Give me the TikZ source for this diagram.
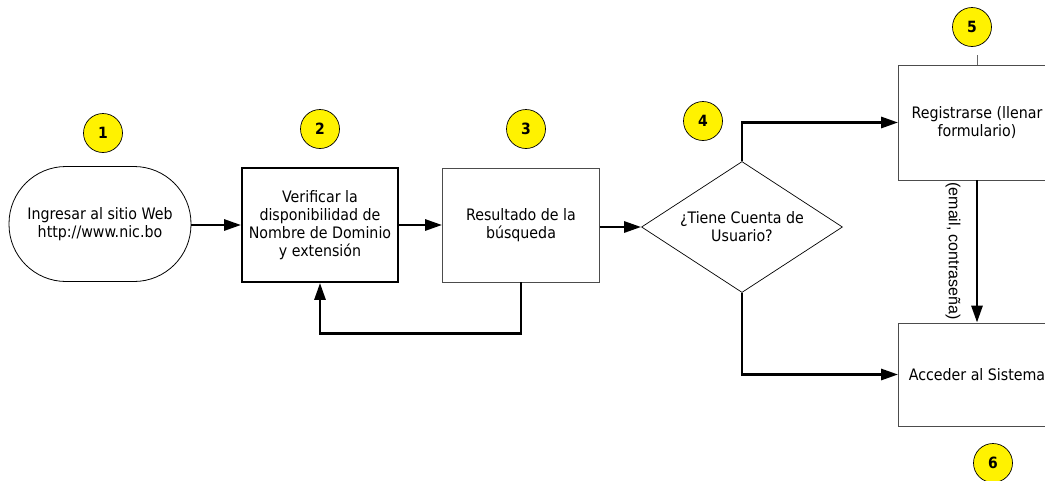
\documentclass[tikz,border=0pt]{standalone}
\usepackage{fontspec}
\setmainfont{DejaVu Sans Condensed}
\newfontfamily\narrowfont{Liberation Sans}
\usetikzlibrary{arrows.meta,shapes.geometric}
\begin{document}
\begin{tikzpicture}[x=1pt,y=-1pt,
  every node/.style={font=\fontsize{15.8}{18}\selectfont, align=center, inner sep=0pt},
  numcircle/.style={circle, draw=black, line width=0.7pt, fill=yellow, minimum size=39pt, font=\fontsize{15.5}{17}\selectfont\bfseries},
  procbox/.style={rectangle, draw=black!70, line width=0.8pt, minimum width=157pt, minimum height=114pt},
  flow/.style={line width=2.8pt, -{Triangle[length=17pt,width=11pt]}},
]
\useasboundingbox (0,0) rectangle (1045,480);
% process nodes
\node[draw=black, line width=0.8pt, rounded corners=57pt, minimum width=182pt, minimum height=115pt] (n1) at (100,224) {Ingresar al sitio Web\\http://www.nic.bo};
\node[procbox, draw=black, line width=1.8pt, minimum width=156pt] (n2) at (320,225) {Verificar la\\disponibilidad de\\Nombre de Dominio\\y extensión};
\node[procbox] (n3) at (521,225) {Resultado de la\\búsqueda};
\node[diamond, draw=black, line width=0.7pt, aspect=1.53, minimum width=201pt, minimum height=131pt] (d4) at (742,227) {¿Tiene Cuenta de\\Usuario?};
\node[procbox, minimum height=115pt] (n5) at (977,122.5) {Registrarse (llenar\\formulario)};
\node[procbox, minimum height=103pt] (n6) at (977,374.5) {Acceder al Sistema};
% numbered circles
\node[numcircle] (c1) at (103,133) {1};
\node[numcircle] (c2) at (320,129) {2};
\node[numcircle] (c3) at (526,129) {3};
\node[numcircle] (c4) at (703,121) {4};
\node[numcircle] (c5) at (972,27) {5};
\node[numcircle] (c6) at (993,463) {6};
% connectors
\draw[flow] (n1.east |- n2.west) -- (n2.west);
\draw[flow] (n2) -- (n3);
\draw[flow] (n3.east |- d4.west) -- (d4.west);
\draw[flow] (n3.south) -- ++(0,51) -| (n2.south);
\draw[flow] (d4.north) |- (n5.west);
\draw[flow] (d4.south) |- (n6.west);
\draw[flow] (n5.south) -- (n6.north);
\node[font=\narrowfont\fontsize{16}{18}\selectfont, rotate=-90] (lbl) at (953,251) {(email, contraseña)};
\coordinate (c5t) at (977,55);
\draw[black!60, line width=0.8pt] (c5t) -- (n5.north);
\end{tikzpicture}
\end{document}
